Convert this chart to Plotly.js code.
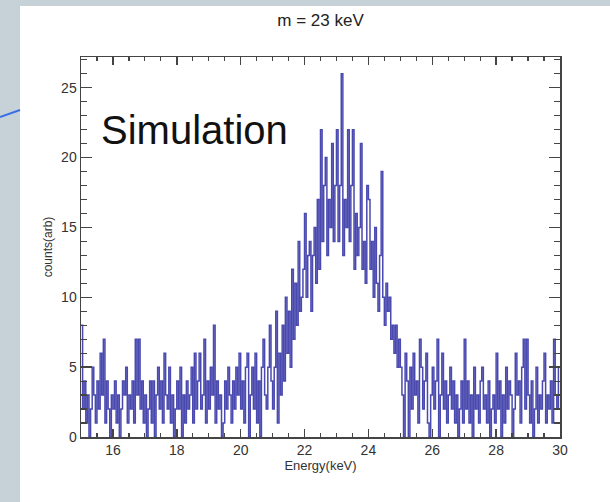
<!DOCTYPE html>
<html>
<head>
<meta charset="utf-8">
<script src="https://cdn.plot.ly/plotly-3.0.1.min.js"></script>
<style>html,body{margin:0;padding:0;background:#fff;}#chart{width:610px;height:502px;}</style>
</head>
<body>
<div id="chart"></div>
<script>
// Histogram: counts per 0.05 keV bin from 15.0 keV to 30.0 keV
var binStart = 15.0;
var binWidth = 0.05;
var counts = [
  // 15.00 - 15.95
  8,2,4,1,3,0,2,5,3,1,4,2,6,3,7,1,4,2,0,3,
  // 16.00 - 16.95
  2,4,1,3,0,2,4,3,5,1,3,2,4,1,7,3,7,2,4,1,
  // 17.00 - 17.95
  3,0,2,4,1,4,0,3,5,2,4,1,6,3,2,5,1,3,0,2,
  // 18.00 - 18.95
  4,2,5,0,3,1,4,2,3,5,1,6,2,4,6,2,3,7,1,4,
  // 19.00 - 19.95
  2,5,3,8,1,4,2,3,0,1,4,2,5,3,1,4,2,5,3,6,
  // 20.00 - 20.95
  2,4,1,5,6,0,3,5,2,6,1,4,0,5,7,3,2,5,8,4,
  // 21.00 - 21.95
  2,5,9,1,6,3,8,4,10,6,9,5,12,7,11,8,14,9,10,12,
  // 22.00 - 22.95
  16,10,13,14,9,13,15,11,17,12,22,14,18,20,13,17,15,21,14,18,
  // 23.00 - 23.95
  22,14,18,26,13,17,15,22,14,18,22,12,16,13,15,21,12,14,11,18,
  // 24.00 - 24.95
  17,12,14,10,15,11,9,13,19,10,8,11,9,10,7,8,6,8,5,7,
  // 25.00 - 25.95
  5,3,0,6,4,0,5,2,6,3,4,1,7,5,2,4,6,1,0,3,
  // 26.00 - 26.95
  5,2,4,7,0,3,6,2,4,1,3,5,2,4,1,3,0,2,4,1,
  // 27.00 - 27.95
  7,2,4,1,3,0,5,2,3,1,4,5,2,3,1,4,0,2,3,1,
  // 28.00 - 28.95
  6,2,4,0,3,1,5,2,4,3,0,2,6,3,4,1,5,7,2,7,
  // 29.00 - 29.95
  3,1,4,0,2,5,1,3,2,4,6,1,3,2,4,1,7,3,2,5
];
var xTickVals = [16, 18, 20, 22, 24, 26, 28, 30];
var yTickVals = [0, 5, 10, 15, 20, 25];
var titleText = 'm = 23 keV';
var xTitle = 'Energy(keV)';
var yTitle = 'counts(arb)';
var labelText = 'Simulation';

// bin edges for a step (histogram) line
var xs = [], ys = [];
for (var i = 0; i < counts.length; i++) {
  xs.push(binStart + i * binWidth);
  ys.push(counts[i]);
}
xs.push(binStart + counts.length * binWidth);
ys.push(counts[counts.length - 1]);

var trace = {
  x: xs, y: ys, type: 'scatter', mode: 'lines',
  line: {shape: 'hv', color: 'rgba(28,28,155,0.8)', width: 1.5},
  hoverinfo: 'x+y'
};

var fontFam = 'Liberation Sans, Arial, Helvetica, sans-serif';
var axisCol = '#444';

// pixel helpers for decorative background shapes
var L = 81, R = 50, T = 57, B = 65, W = 610, H = 502;
var pw = W - L - R, ph = H - T - B;
function px(x) { return (x - L) / pw; }
function py(y) { return (H - B - y) / ph; }

var layout = {
  width: W, height: H,
  margin: {l: L, r: R, t: T, b: B},
  paper_bgcolor: '#ffffff', plot_bgcolor: 'rgba(0,0,0,0)',
  showlegend: false,
  font: {family: fontFam, color: '#333'},
  title: {text: titleText, font: {size: 17, color: '#222', family: fontFam},
          xref: 'paper', x: 0.5, xanchor: 'center', yref: 'container', y: 1 - 20 / H, yanchor: 'middle'},
  xaxis: {
    range: [15, 30], tickvals: xTickVals, ticktext: xTickVals.map(String),
    ticks: 'inside', ticklen: 8, tickwidth: 1.5, tickcolor: axisCol,
    minor: {ticks: 'inside', dtick: 0.5, tick0: 15, ticklen: 4, tickwidth: 1.2, tickcolor: axisCol},
    showline: true, linecolor: axisCol, linewidth: 1.5, mirror: 'allticks',
    showgrid: false, zeroline: false,
    tickfont: {size: 14, color: '#333', family: fontFam},
    title: {text: xTitle, font: {size: 13, color: '#333', family: fontFam}, standoff: 1}
  },
  yaxis: {
    range: [0, 27.2], tickvals: yTickVals, ticktext: yTickVals.map(String),
    ticks: 'inside', ticklen: 11, tickwidth: 1.5, tickcolor: axisCol,
    minor: {ticks: 'inside', dtick: 1, tick0: 0, ticklen: 6, tickwidth: 1.2, tickcolor: axisCol},
    showline: true, linecolor: axisCol, linewidth: 1.5, mirror: 'allticks',
    showgrid: false, zeroline: false,
    tickfont: {size: 14, color: '#333', family: fontFam},
    title: {text: yTitle, font: {size: 12, color: '#333', family: fontFam}, standoff: 6}
  },
  annotations: [
    {text: labelText, xref: 'paper', yref: 'paper', x: px(99), y: py(130),
     xanchor: 'left', yanchor: 'middle', showarrow: false,
     font: {size: 40, color: '#111', family: fontFam}}
  ],
  shapes: [
    {type: 'rect', xref: 'paper', yref: 'paper', layer: 'below',
     x0: px(-5), x1: px(20), y0: py(H + 5), y1: py(-5),
     fillcolor: '#c6d1d8', line: {width: 0}},
    {type: 'rect', xref: 'paper', yref: 'paper', layer: 'below',
     x0: px(-5), x1: px(W + 5), y0: py(6), y1: py(-5),
     fillcolor: '#c6d1d8', line: {width: 0}},
    {type: 'line', xref: 'paper', yref: 'paper',
     x0: px(0), y0: py(117), x1: px(20), y1: py(110),
     line: {color: '#3a6fe6', width: 2}}
  ]
};

Plotly.newPlot('chart', [trace], layout, {displayModeBar: false, staticPlot: true});
</script>
</body>
</html>
